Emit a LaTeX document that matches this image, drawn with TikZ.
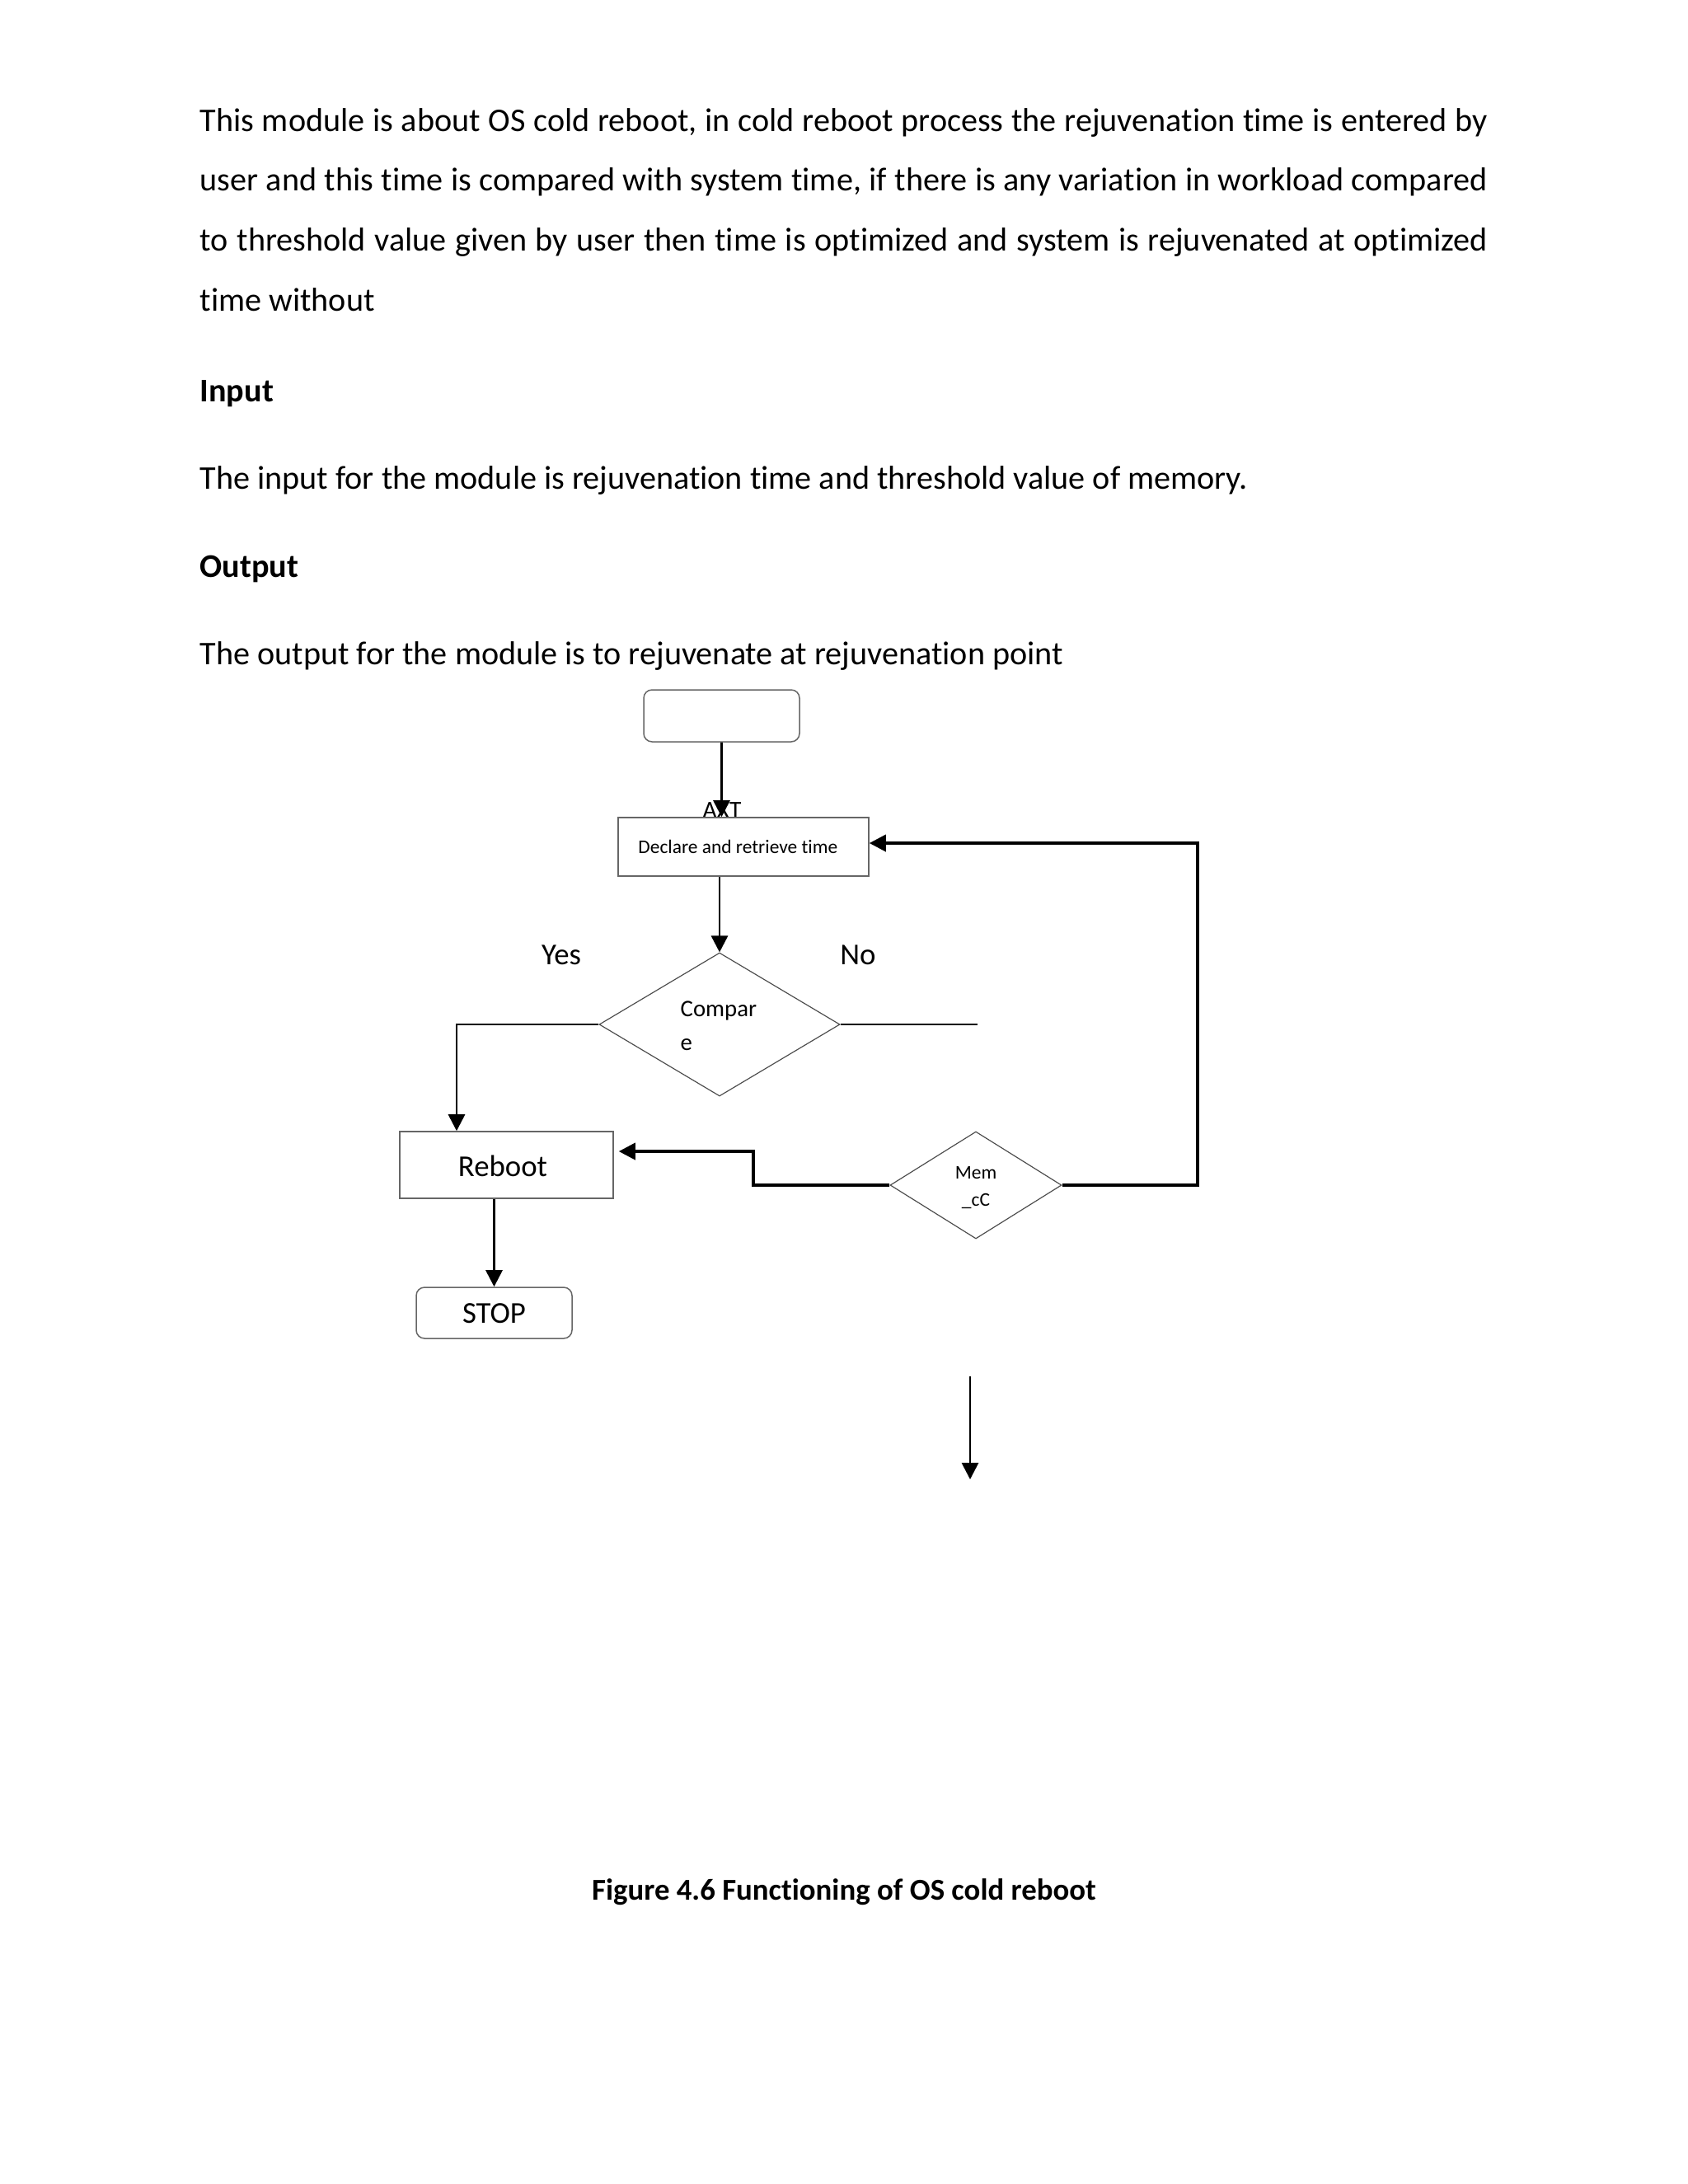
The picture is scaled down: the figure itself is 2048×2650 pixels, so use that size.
\documentclass[tikz,border=0pt]{standalone}
\usepackage{fontspec}
\setmainfont{Carlito}[Ligatures={NoCommon}]
\usetikzlibrary{arrows.meta,shapes.geometric}
\newcommand{\px}{0.298828pt}
\begin{document}
\begin{tikzpicture}[x=0.298828pt,y=-0.298828pt,
  body/.style={anchor=base west,inner sep=0,font=\fontsize{12}{14}\selectfont},
  head/.style={anchor=base west,inner sep=0,font=\fontsize{12}{14}\selectfont\bfseries},
  lbl/.style={anchor=base,inner sep=0,font=\fontsize{11}{13}\selectfont},
  boxshape/.style={draw=black!60,line width=0.45pt,inner sep=0,fill=white},
  roundshape/.style={boxshape,rounded corners=3pt},
  dia/.style={diamond,draw=black!70,line width=0.35pt,inner sep=0,fill=white},
  arr/.style={line width=0.8pt,-{Triangle[length=6pt,width=6pt]}},
  thickarr/.style={line width=1.1pt,-{Triangle[length=6pt,width=6pt]}},
  plainline/.style={line width=0.8pt},
  thickline/.style={line width=1.1pt}]
\fill[white] (0,0) rectangle (2048,2650);
\useasboundingbox (0,0) rectangle (2048,2650);

% ---- body text ----
\node[body] (p1) at (242,159) {\makebox[466.8pt][s]{This module is about OS cold reboot, in cold reboot process the rejuvenation time is entered by}};
\node[body] (p2) at (242,231) {\makebox[466.8pt][s]{user and this time is compared with system time, if there is any variation in workload compared}};
\node[body] (p3) at (242,304) {\makebox[466.8pt][s]{to threshold value given by user then time is optimized and system is rejuvenated at optimized}};
\node[body] (p4) at (242,377) {time without};
\node[head] (hin) at (242,487) {Input};
\node[body] (pin) at (242,593) {The input for the module is rejuvenation time and threshold value of memory.};
\node[head] (hout) at (242,700) {Output};
\node[body] (pout) at (242,806) {The output for the module is to rejuvenate at rejuvenation point};

% ---- flowchart ----
\node[roundshape,minimum width={189*\px},minimum height={63*\px}] (start) at (875.5,868.5) {};
\node[anchor=base,inner sep=0,font=\fontsize{8.8}{10}\selectfont] (axt) at (876,992) {AXT};
\node[boxshape,minimum width={304*\px},minimum height={71*\px},font=\fontsize{7}{8}\selectfont] (declare) at (902,1027.5) {\hspace*{-4pt}Declare and retrieve time};
\node[dia,minimum width={292*\px},minimum height={174*\px}] (compare) at (873,1243) {};
\node[anchor=base west,inner sep=0,font=\fontsize{8.6}{10}\selectfont] (cmp1) at (825,1233) {Compar};
\node[anchor=base west,inner sep=0,font=\fontsize{8.6}{10}\selectfont] (cmp2) at (825,1274) {e};
\node[lbl] (yes) at (681,1170) {Yes};
\node[lbl] (no) at (1041,1170) {No};
\node[boxshape,minimum width={259*\px},minimum height={81*\px}] (reboot) at (614.5,1413.5) {};
\node[lbl] (reboottxt) at (610,1427) {Reboot};
\node[roundshape,minimum width={189*\px},minimum height={62*\px}] (stop) at (599.5,1593) {};
\node[lbl] (stoptxt) at (599.5,1605) {STOP};
\node[dia,minimum width={208*\px},minimum height={130*\px}] (mem) at (1184,1438) {};
\node[anchor=base,inner sep=0,font=\fontsize{7}{8}\selectfont] (mem1) at (1184,1430) {Mem};
\node[anchor=base,inner sep=0,font=\fontsize{7}{8}\selectfont] (mem2) at (1184,1463) {\_cC};

\coordinate (noend) at (1186,1243);
\coordinate (memturn) at (914,1397);
\coordinate (loopturn) at (1453,1023);
\coordinate (loosetop) at (1177,1670);
\coordinate (loosebot) at (1177,1795);

% ---- connectors ----
\draw[arr] (start.south) -- (start.south |- declare.north);
\draw[arr] (compare.north |- declare.south) -- (compare.north);
\draw[arr] (compare.west) -| ([xshift={-60.5*\px}]reboot.north);
\draw[plainline] (compare.east) -- (noend);
\draw[arr] (stop.north |- reboot.south) -- (stop.north);
\draw[thickarr,shorten >={6*\px}] (mem.west) -| (memturn) -- (memturn -| reboot.east);
\draw[thickarr] (mem.east) -| (loopturn) -- (loopturn -| declare.east);
\draw[arr] (loosetop) -- (loosebot);

% ---- caption ----
\node[anchor=base,inner sep=0,font=\fontsize{11}{13}\selectfont\bfseries] (caption) at (1024,2305) {Figure 4.6 Functioning of OS cold reboot};
\end{tikzpicture}
\end{document}
